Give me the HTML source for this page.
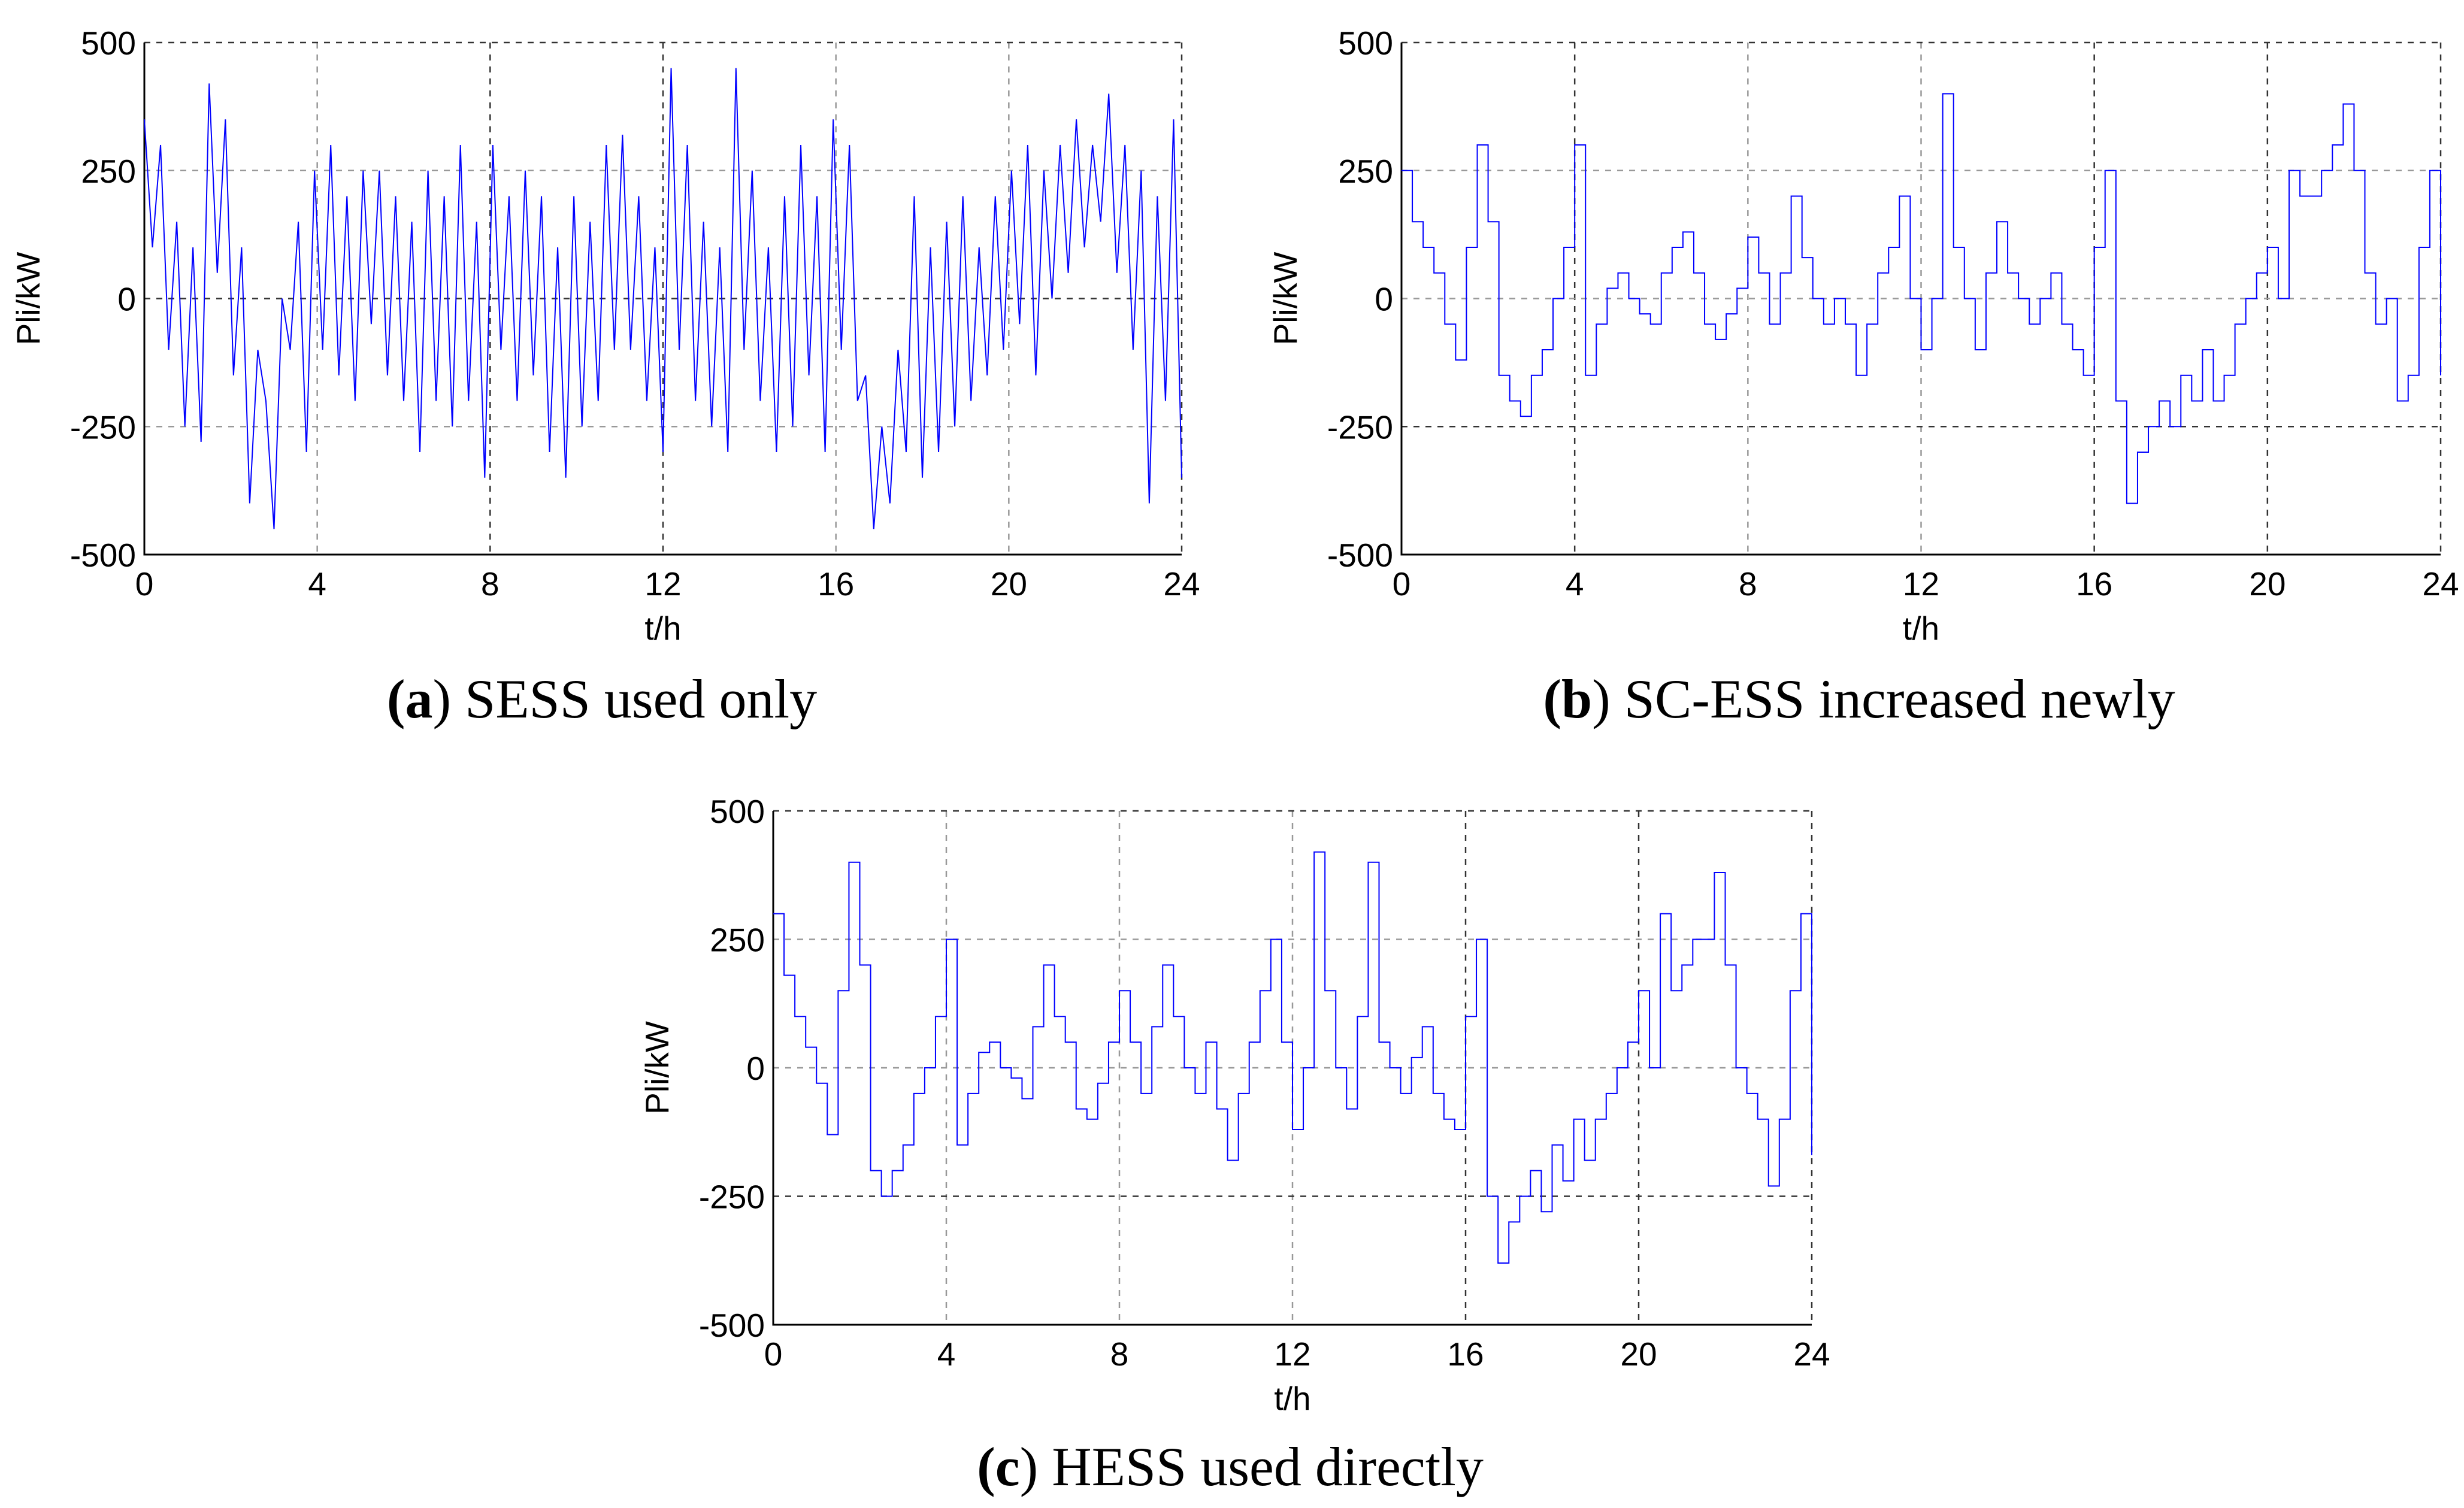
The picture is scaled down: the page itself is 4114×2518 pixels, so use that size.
<!DOCTYPE html>
<html><head><meta charset="utf-8"><style>
html,body{margin:0;padding:0;background:#fff;}
svg{display:block;}
.tk{font-family:"Liberation Sans",sans-serif;font-size:55px;fill:#000;}
.cap{font-family:"Liberation Serif",serif;font-size:92px;fill:#000;}
</style></head><body>
<svg id="svg" width="4114" height="2518" viewBox="0 0 4114 2518" xmlns="http://www.w3.org/2000/svg">
<text class="cap" x="1005" y="1198" text-anchor="middle"><tspan font-weight="bold">(a</tspan>) SESS used only</text>
<text class="cap" x="3104" y="1198" text-anchor="middle"><tspan font-weight="bold">(b</tspan>) SC-ESS increased newly</text>
<text class="cap" x="2054" y="2480" text-anchor="middle"><tspan font-weight="bold">(c</tspan>) HESS used directly</text>
</svg>
<script>
const xTicks=[0,4,8,12,16,20,24];
const yTicks=[-500,-250,0,250,500];
const seriesB=[250,150,100,50,-50,-120,100,300,150,-150,-200,-230,-150,-100,0,100,300,-150,-50,20,50,0,-30,-50,50,100,130,50,-50,-80,-30,20,120,50,-50,50,200,80,0,-50,0,-50,-150,-50,50,100,200,0,-100,0,400,100,0,-100,50,150,50,0,-50,0,50,-50,-100,-150,100,250,-200,-400,-300,-250,-200,-250,-150,-200,-100,-200,-150,-50,0,50,100,0,250,200,200,250,300,380,250,50,-50,0,-200,-150,100,250,-150];
const seriesC=[300,180,100,40,-30,-130,150,400,200,-200,-250,-200,-150,-50,0,100,250,-150,-50,30,50,0,-20,-60,80,200,100,50,-80,-100,-30,50,150,50,-50,80,200,100,0,-50,50,-80,-180,-50,50,150,250,50,-120,0,420,150,0,-80,100,400,50,0,-50,20,80,-50,-100,-120,100,250,-250,-380,-300,-250,-200,-280,-150,-220,-100,-180,-100,-50,0,50,150,0,300,150,200,250,250,380,200,0,-50,-100,-230,-100,150,300,-170];
const seriesA=[350,100,300,-100,150,-250,100,-280,420,50,350,-150,100,-400,-100,-200,-450,0,-100,150,-300,250,-100,300,-150,200,-200,250,-50,250,-150,200,-200,150,-300,250,-200,200,-250,300,-200,150,-350,300,-100,200,-200,250,-150,200,-300,100,-350,200,-250,150,-200,300,-100,320,-100,200,-200,100,-300,450,-100,300,-200,150,-250,100,-300,450,-100,250,-200,100,-300,200,-250,300,-150,200,-300,350,-100,300,-200,-150,-450,-250,-400,-100,-300,200,-350,100,-300,150,-250,200,-200,100,-150,200,-100,250,-50,300,-150,250,0,300,50,350,100,300,150,400,50,300,-100,250,-400,200,-200,350,-350];
const panels=[
 {id:'a',x0:241,x1:1973,y0:71,y1:926,data:seriesA,step:false,dark:[0,8,12]},
 {id:'b',x0:2340,x1:4075,y0:71,y1:926,data:seriesB,step:true,dark:[4,16,20]},
 {id:'c',x0:1291,x1:3025,y0:1354,y1:2212,data:seriesC,step:true,dark:[16,20]}];
const NS='http://www.w3.org/2000/svg';
const svg=document.getElementById('svg');
function mk(t,a,p){const e=document.createElementNS(NS,t);for(const k in a)e.setAttribute(k,a[k]);(p||svg).appendChild(e);return e;}
panels.forEach(P=>{
 const g=mk('g',{});
 
 
 const sx=t=>P.x0+(P.x1-P.x0)*t/24, sy=v=>P.y1-(P.y1-P.y0)*(v+500)/1000;
 xTicks.forEach(t=>{
  if(t>0){const l=mk('line',{x1:sx(t),x2:sx(t),y1:P.y0,y2:P.y1,stroke:(t==24||P.dark.includes(t))?'#333':'#999','stroke-width':2.5,'stroke-dasharray':'10,10'},g);
  }
  const tx=mk('text',{class:'tk',x:sx(t),y:P.y1+68,'text-anchor':'middle'},g);tx.textContent=t;
  
 });
 yTicks.forEach(v=>{
  if(v>-500){const dk=(v==500)||(v==-250&&P.id!='a')||(v==0&&P.id=='a');
  const l=mk('line',{x1:P.x0,x2:P.x1,y1:sy(v),y2:sy(v),stroke:dk?'#333':'#999','stroke-width':2.5,'stroke-dasharray':'10,10'},g);
  }
  const tx=mk('text',{class:'tk',x:P.x0-14,y:sy(v)+20,'text-anchor':'end'},g);tx.textContent=v;
  
 });
 const ax=mk('path',{d:`M${P.x0},${P.y0}V${P.y1}H${P.x1}`,fill:'none',stroke:'#000','stroke-width':3},g);
 
 const n=P.data.length;let d='';
 P.data.forEach((v,i)=>{const x=sx(24*i/(n-1)),y=sy(v);
  if(i==0)d+=`M${x},${y}`;else if(P.step)d+=`H${x}V${y}`;else d+=`L${x},${y}`;});
 const ln=mk('path',{d:d,fill:'none',stroke:'#0000ff','stroke-width':2},g);
 
 const xl=mk('text',{class:'tk',x:(P.x0+P.x1)/2,y:P.y1+142,'text-anchor':'middle'},g);xl.textContent='t/h';
 
 const cy=(P.y0+P.y1)/2,cx=P.x0-175;
 const yl=mk('text',{class:'tk',x:cx,y:cy,'text-anchor':'middle',transform:`rotate(-90 ${cx} ${cy})`},g);yl.textContent='Pli/kW';
 
});
</script>
</body></html>
